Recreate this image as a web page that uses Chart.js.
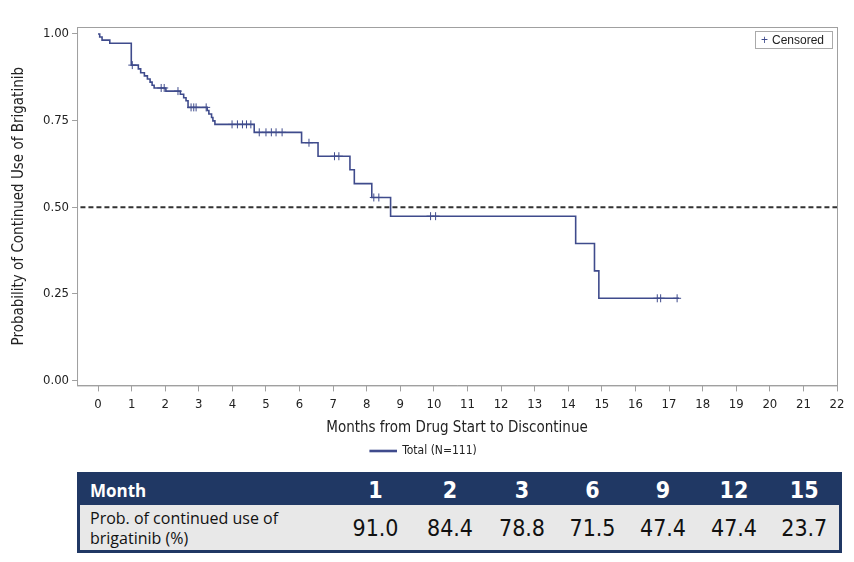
<!DOCTYPE html>
<html>
<head>
<meta charset="utf-8">
<script src="https://cdn.jsdelivr.net/npm/chart.js@4/dist/chart.umd.min.js"></script>
<style>
  body { margin: 0; background: #fff; font-family: "Liberation Sans Narrow", "DejaVu Sans Condensed", sans-serif; }
  #wrap { position: relative; width: 854px; height: 469px; }
  #cens {
    position: absolute; left: 755px; top: 31px; width: 76px; height: 16px;
    border: 1px solid #aaa; font: 12px "Liberation Sans", sans-serif; color: #222;
    line-height: 16px; box-sizing: content-box;
  }
  #cens span { color: #3f4b8c; margin: 0 4px 0 5px; }
  #probTable {
    position: absolute; left: 77px; top: 472px; width: 762px; border-collapse: collapse;
    border: 3px solid #203864; table-layout: fixed;
  }
  #probTable td { padding: 0; text-align: center; }
  #probTable tr.head td { background: #203864; color: #fff; height: 30px; font: bold 23px "Liberation Sans Narrow", "DejaVu Sans Condensed", sans-serif; }
  #probTable tr.head td.lab { font: bold 17px "Open Sans", sans-serif; text-align: left; padding-left: 10px; }
  #probTable tr.vals td { background: #e8e8e8; color: #111; height: 45px; font: 23px "Liberation Sans Narrow", "DejaVu Sans Condensed", sans-serif; }
  #probTable tr.vals td.lab { font: 16px "Open Sans", sans-serif; text-align: left; padding-left: 10px; line-height: 20px; }
</style>
</head>
<body>
<div id="wrap">
  <canvas id="kmChart"></canvas>
  <div id="cens"><span>+</span>Censored</div>
</div>
<table id="probTable"></table>

<script>
// Kaplan-Meier steps (time in months, probability after the drop)
const kmTimes = [0, 0.05, 0.12, 0.35, 0.99, 1.2, 1.27, 1.38, 1.47, 1.55, 1.61, 1.67, 2.02, 2.45, 2.55, 2.62, 2.68,
                 3.25, 3.3, 3.38, 3.42, 3.48, 4.65, 6.06, 6.55, 7.5, 7.63, 8.15, 8.71, 14.22, 14.78, 14.91, 17.3];
const kmSurv  = [1.0, 0.991, 0.982, 0.973, 0.910, 0.899, 0.888, 0.879, 0.870, 0.861, 0.852, 0.844, 0.835, 0.826, 0.816, 0.807, 0.788,
                 0.779, 0.769, 0.759, 0.749, 0.739, 0.716, 0.686, 0.647, 0.608, 0.568, 0.528, 0.474, 0.395, 0.316, 0.237, 0.237];

// censored observations
const censorTimes = [1.02, 1.88, 1.97, 2.38, 2.77, 2.85, 2.92, 3.22, 3.99, 4.15, 4.3, 4.42, 4.55,
                     4.8, 5.0, 5.16, 5.3, 5.48, 6.28, 7.04, 7.17, 8.21, 8.36, 9.9, 10.05, 16.65, 16.75, 17.24];
const censorSurv  = [0.910, 0.844, 0.844, 0.835, 0.788, 0.788, 0.788, 0.788, 0.739, 0.739, 0.739, 0.739, 0.739,
                     0.716, 0.716, 0.716, 0.716, 0.716, 0.686, 0.647, 0.647, 0.528, 0.528, 0.474, 0.474, 0.237, 0.237, 0.237];

const refLevel = 0.5;
const xTicks = [0, 1, 2, 3, 4, 5, 6, 7, 8, 9, 10, 11, 12, 13, 14, 15, 16, 17, 18, 19, 20, 21, 22];
const yTicks = [0, 0.25, 0.5, 0.75, 1.0];

// table below the chart
const tableMonths = [1, 2, 3, 6, 9, 12, 15];
const tableProb = [91.0, 84.4, 78.8, 71.5, 47.4, 47.4, 23.7];

const navy = "#3f4b8c";
const axisGrey = "#a0a0a0";
const narrow = "'Liberation Sans Narrow', 'DejaVu Sans Condensed', sans-serif";

// box around the plot area
const frame = {
    id: "frame",
    afterDraw(chart) {
        const a = chart.chartArea, ctx = chart.ctx;
        ctx.save();
        ctx.strokeStyle = axisGrey;
        ctx.lineWidth = 1;
        ctx.strokeRect(a.left + 0.5, a.top + 0.5, a.right - a.left, a.bottom - a.top);
        ctx.restore();
    }
};

new Chart(document.getElementById("kmChart"), {
    type: "line",
    data: {
        datasets: [
            {
                label: "Total (N=111)",
                data: kmTimes.map((t, i) => ({ x: t, y: kmSurv[i] })),
                borderColor: navy,
                backgroundColor: navy,
                borderWidth: 1.6,
                stepped: true,
                pointRadius: 0
            },
            {
                label: "Censored",
                data: censorTimes.map((t, i) => ({ x: t, y: censorSurv[i] })),
                showLine: false,
                pointStyle: "cross",
                pointRadius: 4,
                borderColor: navy,
                borderWidth: 1
            },
            {
                label: "ref",
                data: [{ x: -1, y: refLevel }, { x: 22, y: refLevel }],
                borderColor: "#333",
                borderWidth: 2,
                borderDash: [5, 3],
                pointRadius: 0
            }
        ]
    },
    options: {
        responsive: true,
        maintainAspectRatio: false,
        animation: false,
        layout: { padding: { left: 10, right: 17, top: 27, bottom: 2 } },
        scales: {
            x: {
                type: "linear",
                min: -0.625,
                max: 22,
                afterBuildTicks: s => { s.ticks = xTicks.map(v => ({ value: v })); },
                ticks: { color: "#222", font: { family: narrow, size: 13 }, padding: 5, maxRotation: 0 },
                grid: { drawOnChartArea: false, tickLength: 6, color: axisGrey },
                border: { color: axisGrey },
                title: { display: true, text: "Months from Drug Start to Discontinue", color: "#222",
                         font: { family: narrow, size: 15 }, padding: { top: 2, bottom: 2 } }
            },
            y: {
                min: -0.0144,
                max: 1.02,
                afterBuildTicks: s => { s.ticks = yTicks.map(v => ({ value: v })); },
                ticks: { color: "#222", font: { family: narrow, size: 13 }, padding: 3,
                         callback: v => v.toFixed(2) },
                grid: { drawOnChartArea: false, tickLength: 5, color: axisGrey },
                border: { color: axisGrey },
                title: { display: true, text: "Probability of Continued Use of Brigatinib", color: "#222",
                         font: { family: narrow, size: 15 }, padding: { top: 0, bottom: 12 } }
            }
        },
        plugins: {
            legend: {
                position: "bottom",
                labels: {
                    filter: item => item.datasetIndex === 0,
                    color: "#222",
                    font: { family: narrow, size: 12 },
                    boxWidth: 26,
                    boxHeight: 1,
                    padding: 6
                }
            },
            tooltip: { enabled: false }
        }
    },
    plugins: [frame]
});

// build the table
const tbl = document.getElementById("probTable");
const widths = [259, 76, 73, 71, 70, 71, 71, 71];
let html = "<colgroup>" + widths.map(w => `<col style="width:${w}px">`).join("") + "</colgroup>";
html += '<tr class="head"><td class="lab">Month</td>' + tableMonths.map(m => `<td>${m}</td>`).join("") + "</tr>";
html += '<tr class="vals"><td class="lab">Prob. of continued use of<br>brigatinib (%)</td>' +
        tableProb.map(p => `<td>${p.toFixed(1)}</td>`).join("") + "</tr>";
tbl.innerHTML = html;
</script>
</body>
</html>
